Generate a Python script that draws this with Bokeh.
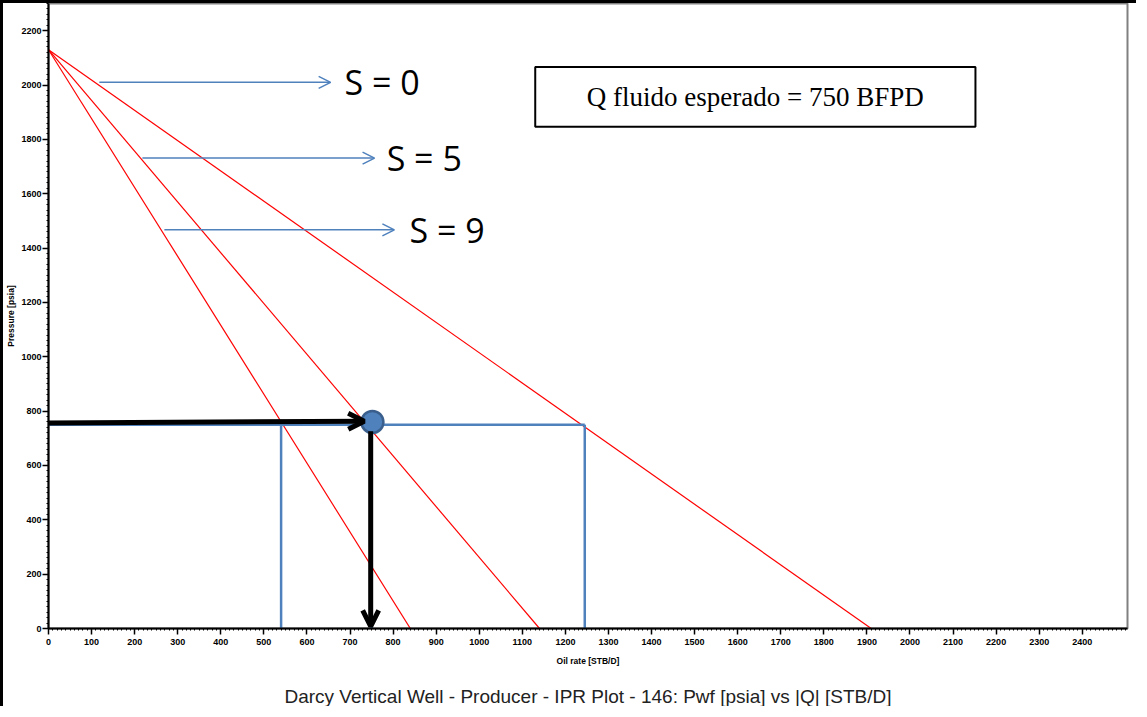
from bokeh.plotting import figure
from bokeh.models import (Range1d, FixedTicker, Arrow, OpenHead, LinearAxis, ColumnDataSource)
from bokeh.core.properties import value
from bokeh.embed import file_html
from bokeh.resources import INLINE

# ---------------- data ----------------
reservoir_pressure = 2130          # psia, common intercept of the IPR lines
skin_labels = ["S = 0", "S = 5", "S = 9"]
aof_rates = [1910, 1140, 840]      # STB/D at Pwf = 0 for each skin
target_rate = 750                  # expected fluid rate
target_pwf = 750                   # psia
rate_s9_at_pwf = 540
rate_s0_at_pwf = 1245
op_point_q = 752
op_point_p = 760
box_text = "Q fluido esperado = 750 BFPD"
caption = "Darcy Vertical Well - Producer - IPR Plot - 146: Pwf [psia] vs |Q| [STB/D]"
x_major_ticks = list(range(0, 2401, 100))
x_minor_ticks = list(range(0, 2510, 10))
y_major_ticks = list(range(0, 2201, 200))
y_minor_ticks = list(range(0, 2301, 20))

# annotation placements (data units)
label_arrow_y = [2010, 1731, 1467]
label_arrow_x0 = [118, 218, 269]
label_arrow_x1 = [655, 757, 803]
label_text_x = [687, 785, 838]
box_x = [1130, 2152]
box_y = [1846, 2066]
caption_span = (0, 2406)

RED = "#FF0000"
BLUE = "#4F81BD"

p = figure(width=1136, height=706, output_backend="svg", toolbar_location=None,
           x_range=Range1d(0, 2505), y_range=Range1d(0, 2300),
           min_border_left=45, min_border_right=12, min_border_top=0, min_border_bottom=79)
p.styles = {"border-left": "3px solid black", "border-top": "3px solid black"}
p.grid.visible = False
p.outline_line_color = "#808080"
p.outline_line_width = 2
p.background_fill_color = "white"
p.border_fill_color = "white"

p.xaxis[0].ticker = FixedTicker(ticks=x_major_ticks, minor_ticks=x_minor_ticks)
p.yaxis[0].ticker = FixedTicker(ticks=y_major_ticks, minor_ticks=y_minor_ticks)
for ax in (p.xaxis[0], p.yaxis[0]):
    ax.axis_line_color = "black"
    ax.axis_line_width = 2
    ax.major_tick_line_color = "black"
    ax.major_tick_line_width = 1.5
    ax.minor_tick_line_color = "black"
    ax.major_tick_in = 0
    ax.minor_tick_in = 0
    ax.major_tick_out = 6
    ax.minor_tick_out = 2
    ax.major_label_text_font = "Liberation Sans"
    ax.major_label_text_font_style = "bold"
    ax.major_label_text_font_size = "9px"
    ax.major_label_text_color = "black"
    ax.axis_label_text_font = "Liberation Sans"
    ax.axis_label_text_font_style = "bold"
    ax.axis_label_text_font_size = "8.5px"
    ax.axis_label_text_color = "black"

p.xaxis.axis_label = "Oil rate [STB/D]"
p.yaxis.axis_label = "Pressure [psia]"
p.xaxis.major_label_standoff = 4
p.xaxis.axis_label_standoff = 8
p.yaxis.major_label_standoff = 1
p.yaxis.axis_label_standoff = 2

# caption as a tick-less axis label below the x axis
cap_axis = LinearAxis(ticker=FixedTicker(ticks=[]), axis_label=caption, bounds=caption_span,
                      axis_line_color=None, major_tick_line_color=None, minor_tick_line_color=None,
                      major_tick_out=0, minor_tick_out=0, major_label_standoff=0,
                      axis_label_standoff=17, axis_label_text_font="Liberation Sans",
                      axis_label_text_font_style="normal", axis_label_text_font_size="19px",
                      axis_label_text_color="#222222")
p.add_layout(cap_axis, "below")

# IPR lines
for q_max in aof_rates:
    p.line([0, q_max], [reservoir_pressure, 0], line_color=RED, line_width=1.2)

# blue construction lines
p.line([0, rate_s0_at_pwf], [target_pwf, target_pwf], line_color=BLUE, line_width=2.5)
p.line([rate_s9_at_pwf, rate_s9_at_pwf], [0, target_pwf], line_color=BLUE, line_width=2.5)
p.line([rate_s0_at_pwf, rate_s0_at_pwf], [0, target_pwf], line_color=BLUE, line_width=2.5)
p.line([target_rate, target_rate], [0, target_pwf], line_color=BLUE, line_width=2.5)

# black arrows
p.add_layout(Arrow(end=OpenHead(size=16, line_width=5, line_color="black"),
                   x_start=0, y_start=756, x_end=733, y_end=763,
                   line_color="black", line_width=5))
p.add_layout(Arrow(end=OpenHead(size=16, line_width=5, line_color="black"),
                   x_start=748, y_start=726, x_end=748, y_end=8,
                   line_color="black", line_width=5))

# operating point
p.scatter([op_point_q], [op_point_p], size=22, fill_color=BLUE, line_color="#3A5F8C", line_width=2.5)

# skin labels with arrows
for i, lab in enumerate(skin_labels):
    p.add_layout(Arrow(end=OpenHead(size=12, line_width=1.5, line_color=BLUE),
                       x_start=label_arrow_x0[i], y_start=label_arrow_y[i],
                       x_end=label_arrow_x1[i], y_end=label_arrow_y[i],
                       line_color=BLUE, line_width=1.5))
src = ColumnDataSource(dict(x=label_text_x, y=label_arrow_y, t=skin_labels))
p.text(x="x", y="y", text="t", source=src, text_font=value("Open Sans"),
       text_font_size="34px", text_align="left", text_baseline="middle", text_color="black")

# box
p.quad(left=[box_x[0]], right=[box_x[1]], bottom=[box_y[0]], top=[box_y[1]],
       fill_color="white", line_color="black", line_width=2)
p.text(x=[(box_x[0] + box_x[1]) / 2], y=[(box_y[0] + box_y[1]) / 2], text=[box_text],
       text_font=value("Liberation Serif"), text_font_size="27px",
       text_align="center", text_baseline="middle", text_color="black")

open("out.html", "w").write(file_html(p, INLINE))
